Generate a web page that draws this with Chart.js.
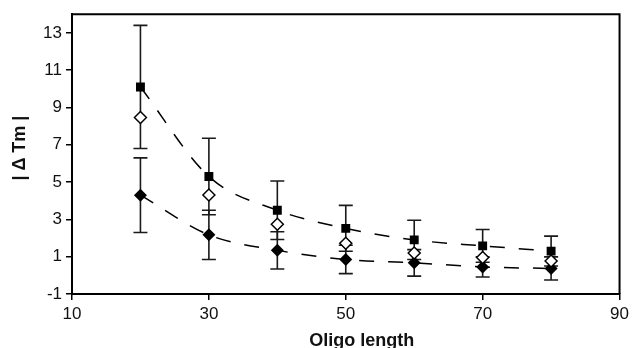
<!DOCTYPE html>
<html>
<head>
<meta charset="utf-8" />
<style>
  html, body { margin: 0; padding: 0; background: #fff; }
  #c { display: block; }
</style>
</head>
<body>
<canvas id="c" width="633" height="348"></canvas>
<script src="https://cdn.jsdelivr.net/npm/chart.js@4.4.3/dist/chart.umd.min.js"></script>
<script>
// oligo lengths (x)
const oligoLength = [20, 30, 40, 50, 60, 70, 80];
// filled squares, with error bars
const squareMean = [10.1, 5.3, 3.49, 2.52, 1.9, 1.58, 1.3];
const squareErr = [3.3, 2.05, 1.57, 1.23, 1.05, 0.88, 0.8];
// open diamonds (no error bars)
const openDiamond = [8.46, 4.31, 2.74, 1.72, 1.2, 0.96, 0.77];
// filled diamonds, with error bars
const diamondMean = [4.3, 2.17, 1.34, 0.85, 0.67, 0.45, 0.37];
const diamondErr = [2.0, 1.32, 1.0, 0.76, 0.71, 0.54, 0.62];

const xTicks = [10, 30, 50, 70, 90];
const yTicks = [-1, 1, 3, 5, 7, 9, 11, 13];

const FONT = '"Liberation Sans", Arial, sans-serif';
const pts = (ys) => oligoLength.map((x, i) => ({ x, y: ys[i] }));

// vertical error bars with caps, drawn under the markers
const errorBars = {
  id: 'errorBars',
  beforeDatasetsDraw(chart) {
    const { ctx } = chart;
    const xs = chart.scales.x, ys = chart.scales.y;
    ctx.save();
    ctx.strokeStyle = '#1a1a1a';
    ctx.lineWidth = 1.6;
    [[squareMean, squareErr], [diamondMean, diamondErr]].forEach(([m, e]) => {
      oligoLength.forEach((x, i) => {
        const px = xs.getPixelForValue(x);
        const top = ys.getPixelForValue(m[i] + e[i]);
        const bot = ys.getPixelForValue(m[i] - e[i]);
        ctx.beginPath();
        ctx.moveTo(px, top); ctx.lineTo(px, bot);
        ctx.moveTo(px - 7, top); ctx.lineTo(px + 7, top);
        ctx.moveTo(px - 7, bot); ctx.lineTo(px + 7, bot);
        ctx.stroke();
      });
    });
    ctx.restore();
  }
};

// box round the plot and the two axis titles
const frameAndTitles = {
  id: 'frameAndTitles',
  afterDraw(chart) {
    const { ctx, chartArea: a } = chart;
    ctx.save();
    ctx.strokeStyle = '#000';
    ctx.lineWidth = 2;
    ctx.beginPath();
    ctx.moveTo(a.left, a.top); ctx.lineTo(a.right, a.top); ctx.lineTo(a.right, a.bottom);
    ctx.stroke();
    ctx.fillStyle = '#111';
    ctx.font = 'bold 18px ' + FONT;
    ctx.textAlign = 'center';
    ctx.textBaseline = 'middle';
    ctx.fillText('Oligo length', (a.left + a.right) / 2 + 16, 341);
    ctx.translate(20, (a.top + a.bottom) / 2 - 6);
    ctx.rotate(-Math.PI / 2);
    ctx.fillText('| \u0394 Tm |', 0, 0);
    ctx.restore();
  }
};

const dashed = {
  showLine: true,
  pointRadius: 0,
  borderColor: '#000',
  borderWidth: 1.5,
  borderDash: [15, 14],
  cubicInterpolationMode: 'monotone',
  fill: false
};

new Chart(document.getElementById('c'), {
  type: 'scatter',
  data: {
    datasets: [
      { data: pts(squareMean), pointStyle: 'rect', pointRadius: 6.3, backgroundColor: '#000', borderColor: '#000', borderWidth: 0, order: 0 },
      { data: pts(openDiamond), pointStyle: 'rectRot', pointRadius: 6, backgroundColor: '#fff', borderColor: '#000', borderWidth: 1.5, order: 1 },
      { data: pts(diamondMean), pointStyle: 'rectRot', pointRadius: 6.5, backgroundColor: '#000', borderColor: '#000', borderWidth: 0, order: 2 },
      Object.assign({ data: pts(squareMean), order: 3 }, dashed),
      Object.assign({ data: pts(diamondMean), order: 4 }, dashed)
    ]
  },
  options: {
    responsive: false,
    animation: false,
    events: [],
    layout: { padding: { top: 12, right: 10, left: 0, bottom: 0 } },
    plugins: { legend: { display: false }, tooltip: { enabled: false } },
    scales: {
      x: {
        type: 'linear',
        min: 10, max: 90,
        afterBuildTicks: (s) => { s.ticks = xTicks.map(v => ({ value: v })); },
        afterFit: (s) => { s.height = 54; },
        grid: { display: true, drawOnChartArea: false, drawTicks: true, tickLength: 6, color: '#000', lineWidth: 1.5 },
        border: { display: true, color: '#000', width: 2 },
        ticks: { padding: 4, color: '#111', font: { family: FONT, size: 17 }, maxRotation: 0 }
      },
      y: {
        type: 'linear',
        min: -1, max: 14,
        afterBuildTicks: (s) => { s.ticks = yTicks.map(v => ({ value: v })); },
        afterFit: (s) => { s.width = 72; },
        grid: { display: true, drawOnChartArea: false, drawTicks: true, tickLength: 6, color: '#000', lineWidth: 1.5 },
        border: { display: true, color: '#000', width: 2 },
        ticks: { padding: 4, color: '#111', font: { family: FONT, size: 17 } }
      }
    }
  },
  plugins: [errorBars, frameAndTitles]
});
</script>
</body>
</html>
